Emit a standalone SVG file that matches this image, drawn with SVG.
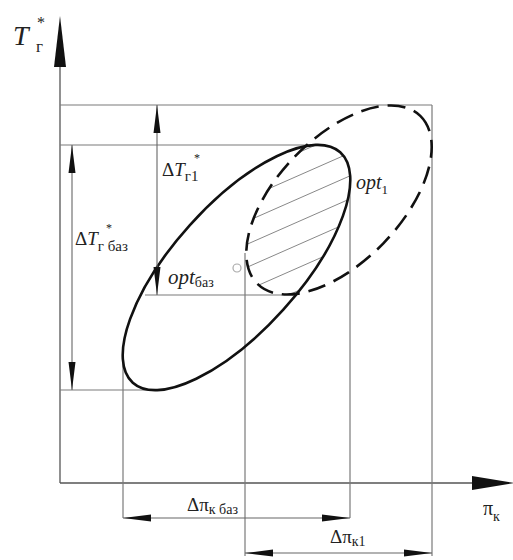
<svg xmlns="http://www.w3.org/2000/svg" width="513" height="560" viewBox="0 0 513 560">
<style>
.thin{stroke:#7a7a7a;stroke-width:1.2;fill:none}
.axis{stroke:#555;stroke-width:1.3;fill:none}
.dim{stroke:#666;stroke-width:1.1;fill:none;marker-start:url(#ah);marker-end:url(#ah)}
.hatch{stroke:#888;stroke-width:1;fill:none}
.curve{stroke:#111;stroke-width:2.6;fill:none}
.dash{stroke:#111;stroke-width:2.6;fill:none;stroke-dasharray:18 9}
.it{font-style:italic}
</style>
<defs>
<marker id="ah" markerUnits="userSpaceOnUse" viewBox="0 0 28 8" refX="28" refY="4" markerWidth="28" markerHeight="8" orient="auto-start-reverse">
<path d="M0,0.5 L28,4 L0,7.5 Z" fill="#111"/>
</marker>
<clipPath id="cSolid"><ellipse cx="236.5" cy="267.5" rx="155" ry="63" transform="rotate(-48 236.5 267.5)"/></clipPath>
<clipPath id="cDash"><ellipse cx="339" cy="200" rx="117" ry="62" transform="rotate(-46 339 200)"/></clipPath>
</defs>

<g id="axes">
<line class="axis" x1="60" y1="40" x2="60" y2="483"/>
<polygon points="60,16 54,67 66,67" fill="#111"/>
<line class="axis" x1="60" y1="483" x2="480" y2="483"/>
<polygon points="514,483 472,476 472,490" fill="#111"/>
</g>

<g id="construction">
<line class="thin" x1="60" y1="105" x2="432" y2="105"/>
<line class="thin" x1="60" y1="145" x2="312" y2="145"/>
<line class="thin" x1="145" y1="295" x2="282" y2="295"/>
<line class="thin" x1="60" y1="390" x2="150" y2="390"/>
<line class="thin" x1="123" y1="347" x2="123" y2="518"/>
<line class="thin" x1="245" y1="253" x2="245" y2="556"/>
<line class="thin" x1="350" y1="185" x2="350" y2="518"/>
<line class="thin" x1="432" y1="105" x2="432" y2="556"/>
</g>

<g id="hatching" clip-path="url(#cSolid)">
<g clip-path="url(#cDash)">
<line class="hatch" x1="200" y1="173" x2="420" y2="76"/>
<line class="hatch" x1="200" y1="196" x2="420" y2="99"/>
<line class="hatch" x1="200" y1="219" x2="420" y2="122"/>
<line class="hatch" x1="200" y1="242" x2="420" y2="145"/>
<line class="hatch" x1="200" y1="265" x2="420" y2="168"/>
<line class="hatch" x1="200" y1="288" x2="420" y2="191"/>
<line class="hatch" x1="200" y1="311" x2="420" y2="214"/>
<line class="hatch" x1="200" y1="334" x2="420" y2="237"/>
</g>
</g>

<g id="ellipse-base">
<ellipse class="curve" cx="236.5" cy="267.5" rx="155" ry="63" transform="rotate(-48 236.5 267.5)"/>
</g>
<g id="ellipse-1">
<ellipse class="dash" cx="339" cy="200" rx="117" ry="62" transform="rotate(-46 339 200)"/>
</g>
<g id="opt-base-point">
<circle cx="237" cy="268" r="4" fill="none" stroke="#aaa" stroke-width="1.2"/>
</g>

<g id="connectors">
<line class="dim" x1="72" y1="145" x2="72" y2="390"/>
<line class="dim" x1="157" y1="105" x2="157" y2="295"/>
<line class="dim" x1="123" y1="518" x2="350" y2="518"/>
<line class="dim" x1="245" y1="553" x2="432" y2="553"/>
</g>

<g id="labels" font-family="'Liberation Serif', 'DejaVu Serif', serif" fill="#222">
<text x="13" y="45" font-size="28"><tspan font-style="italic">T</tspan></text>
<text x="37" y="28" font-size="16">*</text>
<text x="36" y="52" font-size="17">г</text>

<text x="162" y="176" font-size="19">Δ<tspan font-style="italic">T</tspan><tspan font-size="15" dy="5">г1</tspan></text>
<text x="194" y="162" font-size="12">*</text>

<text x="75" y="245" font-size="19">Δ<tspan font-style="italic">T</tspan><tspan font-size="15" dy="6">г баз</tspan></text>
<text x="106" y="232" font-size="12">*</text>

<text x="168" y="284" font-size="21"><tspan font-style="italic">opt</tspan><tspan font-size="14" dy="3">баз</tspan></text>

<text x="356" y="189" font-size="20"><tspan font-style="italic">opt</tspan><tspan font-size="13" dy="5">1</tspan></text>

<text x="187" y="511" font-size="19">Δπ<tspan font-size="14" dy="3">к баз</tspan></text>

<text x="330" y="543" font-size="19">Δπ<tspan font-size="14" dy="3">к1</tspan></text>

<text x="483" y="515" font-size="20">π<tspan font-size="14" dy="6">к</tspan></text>
</g>
</svg>
